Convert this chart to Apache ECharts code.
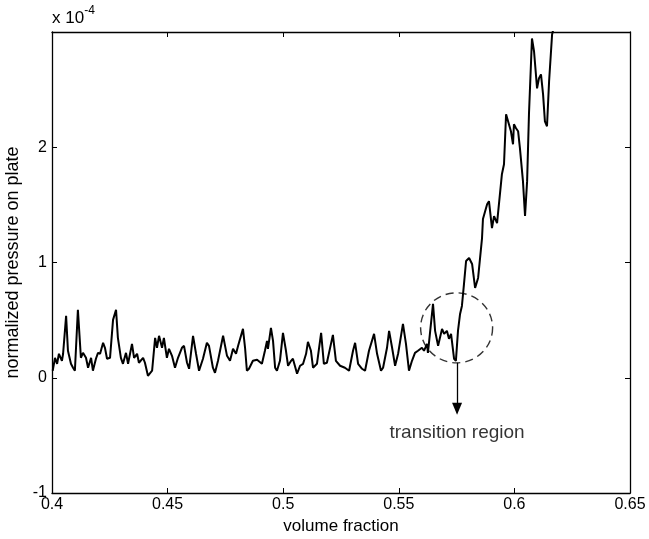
<!DOCTYPE html>
<html>
<head>
<meta charset="utf-8">
<script src="https://cdn.jsdelivr.net/npm/echarts@6/dist/echarts.min.js"></script>
<style>
  html, body { margin: 0; padding: 0; background: #fff; }
  #chart { width: 649px; height: 539px; }
</style>
</head>
<body>
<div id="chart"></div>
<script>
// volume fraction (x) and normalized pressure in units of 1e-4 (y)
const volFrac = [
  0.4003, 0.4013, 0.4022, 0.4030, 0.4043, 0.4048, 0.4061, 0.4069, 0.4082, 0.4091,
  0.4099, 0.4112, 0.4125, 0.4134, 0.4147, 0.4156, 0.4169, 0.4177, 0.4190, 0.4199,
  0.4208, 0.4221, 0.4229, 0.4238, 0.4251, 0.4264, 0.4277, 0.4285, 0.4298, 0.4307,
  0.4320, 0.4329, 0.4346, 0.4355, 0.4368, 0.4376, 0.4394, 0.4402, 0.4415,
  0.4433, 0.4446, 0.4454, 0.4463, 0.4476, 0.4484, 0.4497, 0.4506, 0.4519, 0.4532,
  0.4545, 0.4562, 0.4571, 0.4584, 0.4593, 0.4610, 0.4623, 0.4636, 0.4653, 0.4670,
  0.4679, 0.4696, 0.4705, 0.4718, 0.4740, 0.4757, 0.4770, 0.4783, 0.4796, 0.4805,
  0.4826, 0.4835, 0.4843, 0.4852,
  0.4869, 0.4887, 0.4908, 0.4921, 0.4930, 0.4934, 0.4947, 0.4956, 0.4965, 0.4973,
  0.4986, 0.4999, 0.5012, 0.5021, 0.5034, 0.5042, 0.5060, 0.5073, 0.5086, 0.5099,
  0.5107, 0.5120, 0.5129, 0.5146, 0.5164, 0.5176, 0.5189, 0.5215, 0.5228, 0.5246,
  0.5267, 0.5285,
  0.5302, 0.5311, 0.5324, 0.5341, 0.5354, 0.5371, 0.5393, 0.5406, 0.5423, 0.5432,
  0.5449, 0.5458, 0.5471, 0.5484, 0.5497, 0.5518, 0.5531, 0.5544, 0.5557, 0.5570,
  0.5583, 0.5600, 0.5609, 0.5622, 0.5626, 0.5648, 0.5657, 0.5670, 0.5687, 0.5696,
  0.5708, 0.5717, 0.5726, 0.5739, 0.5747, 0.5756, 0.5765, 0.5773, 0.5782, 0.5791,
  0.5804, 0.5817, 0.5830, 0.5843, 0.5860, 0.5864, 0.5882, 0.5890, 0.5903, 0.5912,
  0.5925, 0.5933, 0.5946, 0.5955, 0.5964, 0.5972, 0.5985, 0.5994, 0.5998, 0.6007,
  0.6016, 0.6024, 0.6037, 0.6046, 0.6055, 0.6063, 0.6076, 0.6085, 0.6098, 0.6106,
  0.6115, 0.6124, 0.6132, 0.6141, 0.6150, 0.6163, 0.6176, 0.6197
];
const pressure = [
  0.061, 0.173, 0.121, 0.208, 0.147, 0.208, 0.537, 0.234, 0.121, 0.087,
  0.061, 0.589, 0.173, 0.216, 0.173, 0.087, 0.173, 0.061, 0.165, 0.216,
  0.208, 0.303, 0.260, 0.165, 0.173, 0.502, 0.589, 0.346, 0.173, 0.121,
  0.216, 0.121, 0.294, 0.173, 0.208, 0.130, 0.173, 0.130, 0.017,
  0.061, 0.346, 0.260, 0.364, 0.260, 0.346, 0.173, 0.251, 0.190, 0.087,
  0.173, 0.260, 0.277, 0.130, 0.078, 0.364, 0.208, 0.061, 0.165, 0.303,
  0.277, 0.087, 0.043, 0.147, 0.364, 0.190, 0.147, 0.251, 0.208, 0.277,
  0.424, 0.260, 0.061, 0.078,
  0.147, 0.156, 0.121, 0.234, 0.320, 0.251, 0.433, 0.320, 0.087, 0.061,
  0.147, 0.390, 0.234, 0.104, 0.147, 0.165, 0.035, 0.104, 0.121, 0.208,
  0.312, 0.234, 0.087, 0.121, 0.390, 0.121, 0.130, 0.372, 0.147, 0.104,
  0.087, 0.061,
  0.234, 0.303, 0.121, 0.078, 0.061, 0.234, 0.381, 0.208, 0.061, 0.087,
  0.260, 0.407, 0.260, 0.104, 0.208, 0.468, 0.294, 0.061, 0.147, 0.216,
  0.234, 0.260, 0.234, 0.294, 0.216, 0.641, 0.407, 0.277, 0.424, 0.381,
  0.407, 0.338, 0.381, 0.165, 0.147, 0.407, 0.554, 0.623, 0.814, 1.013,
  1.039, 0.987, 0.779, 0.866, 1.212, 1.377, 1.506, 1.532, 1.299, 1.403,
  1.342, 1.333, 1.766, 1.853, 2.286, 2.294, 2.139, 2.026, 2.199, 2.165,
  2.139, 1.991, 1.706, 1.403, 1.706, 2.286, 2.944, 2.831, 2.511, 2.597,
  2.632, 2.459, 2.225, 2.182, 2.571, 2.978, 3.09, 3.18
];
const xTicks = [0.4, 0.45, 0.5, 0.55, 0.6, 0.65];
const yTicks = [-1, 0, 1, 2];

// annotation: dashed circle round the transition, arrow and label
const circleCenter = [0.5750, 0.433];
const arrowFrom = [0.5752, 0.13];
const arrowTo = [0.5752, -0.27];
const labelAt = [0.5752, -0.48];

const font = 'Liberation Sans, Arial, Helvetica, sans-serif';
const lineData = volFrac.map((v, i) => [v, pressure[i]]);

const chart = echarts.init(document.getElementById('chart'));

const baseX = {
  type: 'value', min: 0.4, max: 0.65, interval: 0.05,
  splitLine: { show: false },
  axisLine: { onZero: false, lineStyle: { color: '#000', width: 1.3 } },
  axisTick: { inside: true, length: 5, lineStyle: { color: '#000' } }
};
const baseY = {
  type: 'value', min: -1, max: 3, interval: 1,
  splitLine: { show: false },
  axisLine: { onZero: false, lineStyle: { color: '#000', width: 1.3 } },
  axisTick: { inside: true, length: 5, lineStyle: { color: '#000' } }
};

chart.setOption({
  animation: false,
  backgroundColor: '#fff',
  grid: { left: 52, right: 19, top: 32, bottom: 46, containLabel: false, outerBoundsMode: 'none' },
  xAxis: [
    Object.assign({}, baseX, {
      position: 'bottom',
      name: 'volume fraction',
      nameLocation: 'middle',
      nameGap: 22,
      nameTextStyle: { fontFamily: font, fontSize: 17, color: '#000' },
      axisLabel: {
        fontFamily: font, fontSize: 16, color: '#000', margin: 4,
        formatter: v => xTicks.includes(+v.toFixed(2)) ? String(+v.toFixed(2)) : ''
      }
    }),
    Object.assign({}, baseX, { position: 'top', axisLabel: { show: false } })
  ],
  yAxis: [
    Object.assign({}, baseY, {
      position: 'left',
      name: 'normalized pressure on plate',
      nameLocation: 'middle',
      nameGap: 24,
      nameTextStyle: { fontFamily: font, fontSize: 18, color: '#000' },
      axisLabel: {
        fontFamily: font, fontSize: 16, color: '#000', margin: 5,
        formatter: v => yTicks.includes(v) ? String(v) : ''
      }
    }),
    Object.assign({}, baseY, { position: 'right', axisLabel: { show: false } })
  ],
  graphic: [{
    type: 'text', left: 52, top: 5,
    style: {
      text: '{b|x 10}{s|-4}',
      rich: {
        b: { fontFamily: font, fontSize: 17, fill: '#000', verticalAlign: 'bottom' },
        s: { fontFamily: font, fontSize: 12, fill: '#000', padding: [0, 0, 10, 0] }
      }
    }
  }],
  series: [
    {
      type: 'line',
      data: lineData,
      showSymbol: false,
      clip: true,
      lineStyle: { color: '#000', width: 2 },
      markLine: {
        silent: true,
        symbol: ['none', 'triangle'],
        symbolSize: [10, 12],
        label: { show: false },
        lineStyle: { color: '#000', width: 1.3, type: 'solid' },
        data: [[{ coord: arrowFrom }, { coord: arrowTo }]]
      }
    },
    {
      type: 'scatter',
      data: [circleCenter],
      symbol: 'circle',
      symbolSize: [72, 70],
      silent: true,
      itemStyle: {
        color: 'rgba(0,0,0,0)', borderColor: '#000', borderWidth: 1.4,
        borderType: [8, 5]
      }
    },
    {
      type: 'scatter',
      data: [labelAt],
      symbolSize: 0,
      silent: true,
      label: {
        show: true, position: 'inside',
        formatter: 'transition region',
        fontFamily: font, fontSize: 19, color: '#000'
      }
    }
  ]
});
</script>
</body>
</html>
